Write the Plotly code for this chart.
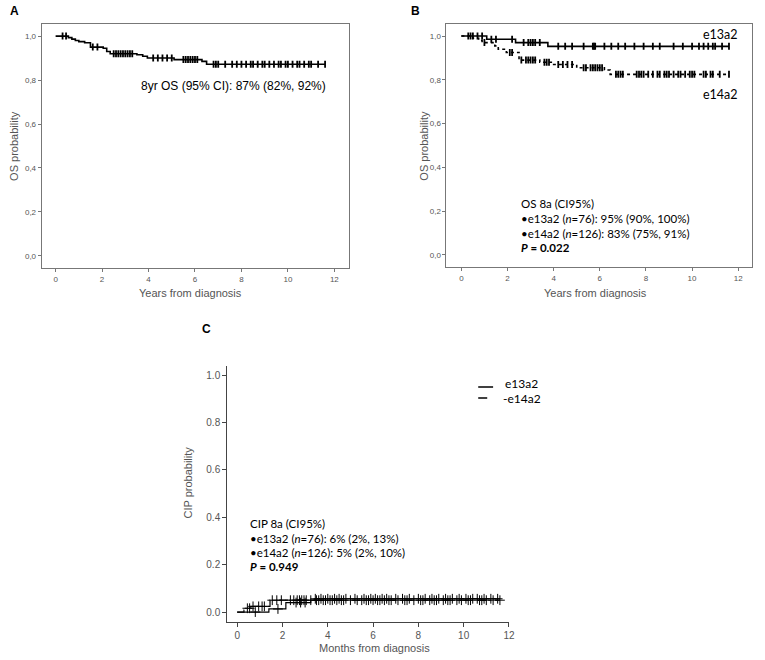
import numpy as np
import plotly.graph_objects as go

W, H = 765, 660

# ---------------- Panel A data (overall OS) ----------------
a_times = [0, 0.55, 0.7, 0.85, 1.0, 1.25, 1.5, 2.05, 2.2, 2.35, 3.5, 3.75, 3.95, 5.1, 6.3, 6.5, 11.6]
a_surv = [1.0, 0.993, 0.986, 0.98, 0.975, 0.97, 0.95, 0.945, 0.93, 0.92, 0.915, 0.908, 0.90, 0.893, 0.885, 0.872, 0.872]
a_cens = [0.3, 0.45, 1.6, 1.8, 2.5, 2.6, 2.7, 2.8, 2.9, 3.0, 3.1, 3.2, 3.3, 4.2, 4.4, 4.6, 4.8, 5.0,
          5.5, 5.6, 5.7, 5.8, 5.9, 6.0, 6.1, 6.8, 6.9, 7.0, 7.3, 7.6, 7.8, 8.0, 8.2, 8.4, 8.5, 8.7,
          8.9, 9.0, 9.2, 9.4, 9.6, 9.7, 9.9, 10.0, 10.2, 10.4, 10.5, 10.7, 10.9, 11.0, 11.3, 11.6]

# ---------------- Panel B data (OS by transcript) ----------------
b13_times = [0, 1.1, 2.35, 3.75, 11.6]
b13_surv = [1.0, 0.985, 0.97, 0.953, 0.953]
b13_cens = [0.5, 0.7, 0.9, 1.3, 1.5, 2.2, 2.7, 2.9, 3.0, 3.1, 3.2, 3.4, 4.2, 4.5, 4.8, 5.3, 5.7, 5.75,
            5.8, 6.2, 6.5, 6.8, 7.1, 7.5, 7.9, 8.3, 8.6, 9.2, 9.6, 10.0, 10.3, 10.5, 10.7, 10.9, 11.0, 11.3, 11.6]
b14_times = [0, 0.5, 0.75, 0.9, 1.45, 1.6, 1.95, 2.5, 3.4, 4.0, 5.0, 6.2, 6.45, 11.6]
b14_surv = [1.0, 0.99, 0.98, 0.97, 0.955, 0.94, 0.925, 0.89, 0.88, 0.87, 0.855, 0.845, 0.825, 0.825]
b14_cens = [0.3, 0.4, 1.0, 2.1, 2.2, 2.6, 2.8, 2.9, 3.0, 3.1, 3.2, 3.6, 3.7, 3.8, 4.2, 4.4, 4.6, 4.8,
            5.3, 5.4, 5.6, 5.7, 5.8, 5.9, 6.0, 6.1, 6.7, 6.8, 6.9, 7.0, 7.6, 7.7, 7.8, 7.9, 8.1, 8.3,
            8.5, 8.6, 8.8, 8.9, 9.0, 9.2, 9.4, 9.5, 9.7, 9.9, 10.0, 10.1, 10.5, 10.6, 10.8, 10.9, 11.2, 11.6]

# ---------------- Panel C data (CIP by transcript) ----------------
c13_times = [0, 1.4, 2.15, 3.25, 3.4, 11.6]
c13_val = [0, 0.013, 0.04, 0.05, 0.056, 0.056]
c13_cens = [0.8, 1.8, 2.6, 2.8, 3.0, 3.45, 3.7, 4.0, 4.3, 4.5, 4.8, 5.2, 5.6, 5.9, 6.1, 6.4, 6.6, 7.0,
            7.3, 7.6, 8.0, 8.3, 8.6, 8.9, 9.2, 9.5, 9.8, 10.1, 10.4, 10.6, 10.9, 11.2, 11.5]
c14_times = [0, 0.3, 0.45, 0.6, 1.45, 11.6]
c14_val = [0, 0.008, 0.016, 0.024, 0.05, 0.05]
c14_cens = [0.45, 0.55, 0.7, 0.95, 1.1, 1.2, 1.55, 1.75, 1.95, 2.35, 2.5, 2.65, 2.75, 2.85, 2.95, 3.05,
            3.25, 3.5, 3.6, 3.8, 3.9, 4.1, 4.2, 4.4, 4.6, 4.7, 5.0, 5.3, 5.5, 5.7, 5.8, 6.0, 6.2, 6.3,
            6.5, 6.7, 6.8, 7.1, 7.4, 7.5, 7.8, 8.1, 8.2, 8.5, 8.7, 8.8, 9.1, 9.3, 9.4, 9.7, 9.9, 10.2,
            10.3, 10.7, 10.8, 11.0, 11.3, 11.6]

xticks = [0, 2, 4, 6, 8, 10, 12]
yticks = [0.0, 0.2, 0.4, 0.6, 0.8, 1.0]
yticklabels_comma = ["0,0", "0,2", "0,4", "0,6", "0,8", "1,0"]
yticklabels_dot = ["0.0", "0.2", "0.4", "0.6", "0.8", "1.0"]


def step_at(times, vals, t):
    times = np.asarray(times)
    vals = np.asarray(vals)
    idx = np.searchsorted(times, np.asarray(t), side="right") - 1
    return vals[idx]


def px_x(x):
    return x / W


def px_y(y):
    return 1 - y / H


fig = go.Figure()


def add_curve(times, vals, cens, xa, ya, dash, width, sym, msize, mwidth):
    fig.add_trace(go.Scatter(x=times, y=vals, mode="lines", line=dict(color="black", width=width, dash=dash, shape="hv"),
                             xaxis=xa, yaxis=ya, showlegend=False, hoverinfo="skip"))
    fig.add_trace(go.Scatter(x=cens, y=step_at(times, vals, cens), mode="markers",
                             marker=dict(symbol=sym, size=msize, color="black", line=dict(color="black", width=mwidth)),
                             xaxis=xa, yaxis=ya, showlegend=False, hoverinfo="skip"))


add_curve(a_times, a_surv, a_cens, "x", "y", "solid", 1.6, "line-ns-open", 5, 1.8)
add_curve(b13_times, b13_surv, b13_cens, "x2", "y2", "solid", 1.6, "line-ns-open", 5, 1.8)
add_curve(b14_times, b14_surv, b14_cens, "x2", "y2", "dot", 1.6, "line-ns-open", 5, 1.8)
add_curve(c13_times, c13_val, c13_cens, "x3", "y3", "solid", 1.2, "cross-thin-open", 7, 1)
add_curve(c14_times, c14_val, c14_cens, "x3", "y3", "dash", 1.2, "cross-thin-open", 7, 1)

tickfont_ab = dict(family="Liberation Sans, Arial", size=8, color="#555555")
tickfont_c = dict(family="Liberation Sans, Arial", size=10, color="#555555")

common_ab = dict(showgrid=False, zeroline=False, showline=True, linecolor="#777777", linewidth=1, mirror=True,
                 ticks="outside", ticklen=3, tickcolor="#777777", tickfont=tickfont_ab)

fig.update_layout(
    width=W, height=H, margin=dict(l=0, r=0, t=0, b=0),
    paper_bgcolor="white", plot_bgcolor="white",
    xaxis=dict(domain=[px_x(42), px_x(352)], range=[-0.6, 12.64], tickvals=xticks, anchor="y", **common_ab),
    yaxis=dict(domain=[px_y(268), px_y(24)], range=[-0.055, 1.055], tickvals=yticks, ticktext=yticklabels_comma,
               anchor="x", **common_ab),
    xaxis2=dict(domain=[px_x(450), px_x(758)], range=[-0.645, 12.6], tickvals=xticks, anchor="y2", **common_ab),
    yaxis2=dict(domain=[px_y(267), px_y(24)], range=[-0.055, 1.055], tickvals=yticks, ticktext=yticklabels_comma,
                anchor="x2", **common_ab),
    xaxis3=dict(domain=[px_x(229), px_x(513)], range=[-0.44, 12.0], tickvals=xticks, anchor="y3",
                showgrid=False, zeroline=False, showline=True, linecolor="#444444", linewidth=1,
                ticks="outside", ticklen=4, tickcolor="#444444", tickfont=tickfont_c),
    yaxis3=dict(domain=[px_y(622), px_y(366)], range=[-0.042, 1.038], tickvals=yticks, ticktext=yticklabels_dot,
                anchor="x3", showgrid=False, zeroline=False, showline=True, linecolor="#444444", linewidth=1,
                ticks="outside", ticklen=4, tickcolor="#444444", tickfont=tickfont_c),
)

ann = []


def text(x, y, s, size=12, family="Lato", color="black", xanchor="left", yanchor="middle", angle=0):
    ann.append(dict(x=px_x(x), y=px_y(y), xref="paper", yref="paper", text=s, showarrow=False,
                    font=dict(family=family, size=size, color=color), xanchor=xanchor, yanchor=yanchor,
                    textangle=angle))


GRAY = "#555555"
SANS = "Liberation Sans, Arial"

# panel letters
text(8, 11, "<b>A</b>", size=12, family=SANS)
text(412, 11, "<b>B</b>", size=12, family=SANS)
text(202, 329, "<b>C</b>", size=12, family=SANS)

# axis titles
text(14, 146, "OS probability", size=11, family=SANS, color=GRAY, xanchor="center", angle=-90)
text(192, 293, "Years from diagnosis", size=11, family=SANS, color=GRAY, xanchor="center")
text(427, 146, "OS probability", size=11, family=SANS, color=GRAY, xanchor="center", angle=-90)
text(600, 293, "Years from diagnosis", size=11, family=SANS, color=GRAY, xanchor="center")
text(189, 483, "CIP probability", size=11, family=SANS, color=GRAY, xanchor="center", angle=-90)
text(377, 648, "Months from diagnosis", size=11, family=SANS, color=GRAY, xanchor="center")

# panel A annotation
text(140, 86, "8yr OS (95% CI): 87% (82%, 92%)", size=12, family=SANS)

# panel B labels and annotation
text(707, 34, "e13a2", size=12.5)
text(707, 95, "e14a2", size=12.5)
text(523, 203, "OS 8a (CI95%)", size=11.5)
text(523, 218, "•e13a2 (<i>n</i>=76): 95% (90%, 100%)", size=11.5)
text(523, 233, "•e14a2 (<i>n</i>=126): 83% (75%, 91%)", size=11.5)
text(523, 247, "<b><i>P</i> = 0.022</b>", size=11.5)

# panel C annotation
text(250, 523, "CIP 8a (CI95%)", size=11.5)
text(250, 538, "•e13a2 (<i>n</i>=76): 6% (2%, 13%)", size=11.5)
text(250, 552, "•e14a2 (<i>n</i>=126): 5% (2%, 10%)", size=11.5)
text(250, 566, "<b><i>P</i> = 0.949</b>", size=11.5)

# panel C legend
text(507, 383, "e13a2", size=12)
text(505, 399, "-e14a2", size=12)

fig.update_layout(annotations=ann)
fig.add_shape(type="line", xref="paper", yref="paper", x0=px_x(482), x1=px_x(497), y0=px_y(387), y1=px_y(387),
              line=dict(color="black", width=1.5))
fig.add_shape(type="line", xref="paper", yref="paper", x0=px_x(482), x1=px_x(497), y0=px_y(398), y1=px_y(398),
              line=dict(color="black", width=1.5, dash="dash"))

fig.write_html("out.html", config={"displayModeBar": False},
               post_script="document.body.style.margin='0px';")
